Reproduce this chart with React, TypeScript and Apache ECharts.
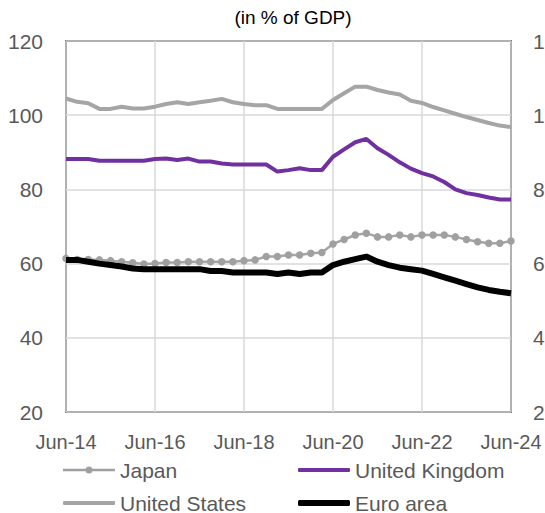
import React, { useEffect, useRef } from "react";
import * as echarts from "echarts";

const categories = [
  "Jun-14", "Sep-14", "Dec-14", "Mar-15", "Jun-15", "Sep-15", "Dec-15", "Mar-16",
  "Jun-16", "Sep-16", "Dec-16", "Mar-17", "Jun-17", "Sep-17", "Dec-17", "Mar-18",
  "Jun-18", "Sep-18", "Dec-18", "Mar-19", "Jun-19", "Sep-19", "Dec-19", "Mar-20",
  "Jun-20", "Sep-20", "Dec-20", "Mar-21", "Jun-21", "Sep-21", "Dec-21", "Mar-22",
  "Jun-22", "Sep-22", "Dec-22", "Mar-23", "Jun-23", "Sep-23", "Dec-23", "Mar-24",
  "Jun-24",
];

const japan = [
  61.4, 61.1, 61.1, 61.0, 60.8, 60.5, 60.2, 59.9, 60.0, 60.3, 60.3, 60.5, 60.5, 60.5,
  60.5, 60.5, 60.8, 61.0, 61.9, 61.9, 62.3, 62.3, 62.8, 63.0, 65.3, 66.5, 67.7, 68.2,
  67.2, 67.2, 67.7, 67.2, 67.7, 67.7, 67.7, 67.2, 66.5, 65.9, 65.5, 65.5, 66.1,
];

const unitedKingdom = [
  88.2, 88.2, 88.2, 87.7, 87.7, 87.7, 87.7, 87.7, 88.2, 88.3, 87.9, 88.3, 87.5, 87.5,
  87.0, 86.7, 86.7, 86.7, 86.7, 84.8, 85.2, 85.7, 85.2, 85.2, 88.8, 90.8, 92.7, 93.6,
  91.1, 89.3, 87.3, 85.6, 84.4, 83.5, 82.0, 80.0, 79.0, 78.5, 77.8, 77.3, 77.3,
];

const unitedStates = [
  104.5, 103.6, 103.2, 101.7, 101.7, 102.3, 101.8, 101.8, 102.3, 103.0, 103.5, 103.0,
  103.5, 103.9, 104.4, 103.5, 103.0, 102.7, 102.7, 101.7, 101.7, 101.7, 101.7, 101.7,
  104.1, 105.9, 107.7, 107.7, 106.8, 106.1, 105.6, 103.9, 103.3, 102.2, 101.3, 100.4,
  99.5, 98.7, 97.9, 97.2, 96.8,
];

const euroArea = [
  61.0, 61.0, 60.5, 60.0, 59.6, 59.2, 58.7, 58.5, 58.5, 58.5, 58.5, 58.5, 58.5, 58.0,
  58.0, 57.6, 57.6, 57.6, 57.6, 57.2, 57.6, 57.2, 57.6, 57.6, 59.6, 60.5, 61.2, 61.9,
  60.5, 59.6, 58.9, 58.5, 58.1, 57.2, 56.3, 55.4, 54.5, 53.6, 52.9, 52.4, 52.0,
];

const yMin = 20;
const yMax = 120;
const yStep = 20;

const FONT = "Liberation Sans";
const LABEL = "#595959";

const JAPAN_ICON =
  "path://M0,2.25 L23,2.25 L23,4.75 L0,4.75 Z M29,2.25 L52,2.25 L52,4.75 L29,4.75 Z M22.5,3.5 A3.5,3.5 0 1,1 29.5,3.5 A3.5,3.5 0 1,1 22.5,3.5 Z";

export default function App() {
  const ref = useRef<HTMLDivElement>(null);

  useEffect(() => {
    document.body.style.margin = "0";
    if (!ref.current) return;
    const chart = echarts.init(ref.current, undefined, { renderer: "svg" });

    const legendBase = {
      orient: "horizontal",
      padding: 0,
      itemWidth: 52,
      textStyle: { color: LABEL, fontSize: 21, fontFamily: FONT, lineHeight: 22 },
      selectedMode: false,
    };

    chart.setOption({
      animation: false,
      backgroundColor: "#fff",
      title: {
        text: "(in % of GDP)",
        left: 288,
        textAlign: "center",
        top: 3,
        textStyle: { fontFamily: FONT, fontSize: 19, fontWeight: "normal", color: "#000" },
      },
      grid: {
        left: 66,
        right: 34,
        top: 41,
        bottom: 101,
        show: true,
        borderColor: "#000",
        borderWidth: 1.5,
        backgroundColor: "transparent",
        containLabel: false,
        outerBoundsMode: "none",
      },
      legend: [
        { ...legendBase, data: [{ name: "Japan", icon: JAPAN_ICON }], itemHeight: 7, left: 63, top: 459 },
        { ...legendBase, data: [{ name: "United Kingdom", icon: "roundRect" }], itemHeight: 4, left: 298, top: 459 },
        { ...legendBase, data: [{ name: "United States", icon: "roundRect" }], itemHeight: 4, left: 63, top: 492 },
        { ...legendBase, data: [{ name: "Euro area", icon: "roundRect" }], itemHeight: 6, left: 298, top: 492 },
      ],
      xAxis: {
        type: "category",
        data: categories,
        boundaryGap: false,
        axisLine: { show: false },
        axisTick: { show: false },
        axisLabel: {
          interval: 7,
          margin: 20,
          color: LABEL,
          fontSize: 20,
          fontFamily: FONT,
        },
        splitLine: { show: true, interval: 7, lineStyle: { color: "#D9D9D9", width: 1.5 } },
      },
      yAxis: [
        {
          type: "value",
          min: yMin,
          max: yMax,
          interval: yStep,
          axisLine: { show: false },
          axisTick: { show: false },
          axisLabel: { margin: 23, color: LABEL, fontSize: 21, fontFamily: FONT },
          splitLine: { show: true, lineStyle: { color: "#D9D9D9", width: 1.5 } },
        },
        {
          type: "value",
          position: "right",
          min: yMin,
          max: yMax,
          interval: yStep,
          axisLine: { show: false },
          axisTick: { show: false },
          axisLabel: { margin: 22, color: LABEL, fontSize: 21, fontFamily: FONT },
          splitLine: { show: false },
        },
      ],
      series: [
        {
          name: "Japan",
          type: "line",
          data: japan,
          symbol: "circle",
          symbolSize: 7.5,
          showSymbol: true,
          showAllSymbol: true,
          itemStyle: { color: "#A0A0A0" },
          lineStyle: { color: "#A5A5A5", width: 2.5 },
          z: 3,
        },
        {
          name: "United Kingdom",
          type: "line",
          data: unitedKingdom,
          symbol: "none",
          itemStyle: { color: "#7030A0" },
          lineStyle: { color: "#7030A0", width: 4 },
          z: 3,
        },
        {
          name: "United States",
          type: "line",
          data: unitedStates,
          symbol: "none",
          itemStyle: { color: "#A5A5A5" },
          lineStyle: { color: "#A5A5A5", width: 4 },
          z: 3,
        },
        {
          name: "Euro area",
          type: "line",
          data: euroArea,
          symbol: "none",
          itemStyle: { color: "#000" },
          lineStyle: { color: "#000", width: 6 },
          z: 4,
        },
      ],
    });

    return () => chart.dispose();
  }, []);

  return <div ref={ref} style={{ width: 545, height: 513 }} />;
}
